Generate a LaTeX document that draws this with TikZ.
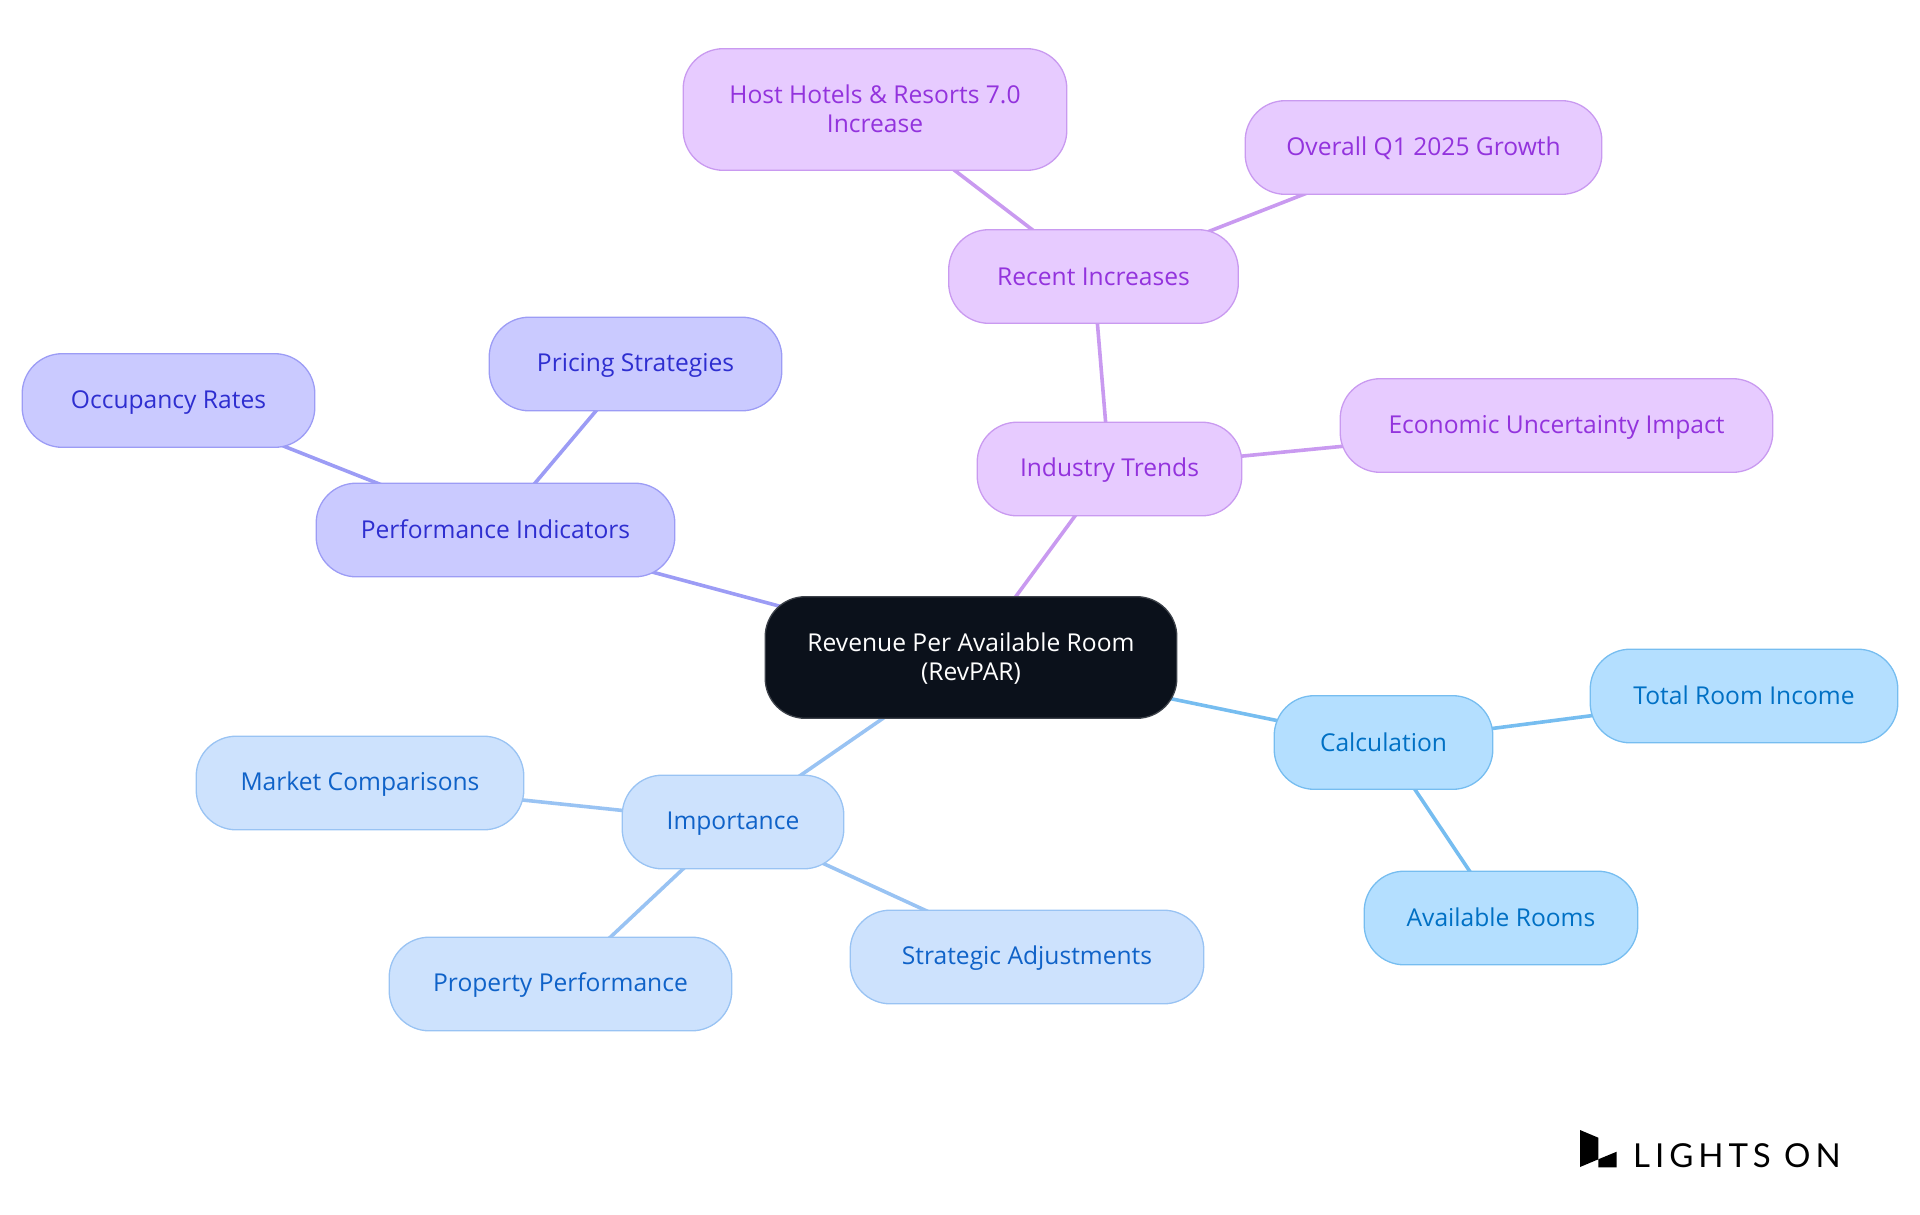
\documentclass[tikz,border=0pt]{standalone}
\usepackage{fontspec}
\setmainfont{Open Sans}
\newfontfamily\logofont[LetterSpace=15]{Lato}
\newcommand{\ms}{\rule[-4pt]{0pt}{25pt}}
\usetikzlibrary{backgrounds}
\definecolor{pfill}{HTML}{E7CBFF}\definecolor{pline}{HTML}{C99AF0}\definecolor{ptext}{HTML}{9333DD}
\definecolor{vfill}{HTML}{CACAFF}\definecolor{vline}{HTML}{9C9CF5}\definecolor{vtext}{HTML}{2E2ED0}
\definecolor{bfill}{HTML}{CDE2FD}\definecolor{bline}{HTML}{99C3F3}\definecolor{btext}{HTML}{0F62C8}
\definecolor{sfill}{HTML}{B4DFFF}\definecolor{sline}{HTML}{76BDF0}\definecolor{stext}{HTML}{0070C4}
\definecolor{rfill}{HTML}{0B111B}
\tikzset{
  x=1pt,y=-1pt,
  mapnode/.style={rectangle,rounded corners=40pt,inner sep=0pt,align=center,line width=1.3pt,
    font=\fontsize{24.6}{28.5}\selectfont},
  rootnode/.style={mapnode,fill=rfill,draw=rfill!80!white,text=white},
  pnode/.style={mapnode,fill=pfill,draw=pline,text=ptext},
  vnode/.style={mapnode,fill=vfill,draw=vline,text=vtext},
  bnode/.style={mapnode,fill=bfill,draw=bline,text=btext},
  snode/.style={mapnode,fill=sfill,draw=sline,text=stext},
  link/.style={line width=3.6pt},
  sz/.style 2 args={minimum width=#1pt-0.4pt,minimum height=#2pt-0.4pt},
}
\begin{document}
\begin{tikzpicture}
\useasboundingbox (0,0) rectangle (1920,1215);
\node[rootnode,sz={412}{122}] (root) at (971,657.5) {\ms Revenue Per Available Room\\\ms (RevPAR)};
\node[pnode,sz={265}{94}] (trends) at (1109.5,469) {\ms Industry Trends};
\node[pnode,sz={290}{94}] (recent) at (1093.5,276.5) {\ms Recent Increases};
\node[pnode,sz={384}{122}] (host) at (875,109.5) {\ms Host Hotels \& Resorts 7.0\\\ms Increase};
\node[pnode,sz={357}{94}] (overall) at (1423.5,147.5) {\ms Overall Q1 2025 Growth};
\node[pnode,sz={433}{94}] (econ) at (1556.5,425.5) {\ms Economic Uncertainty Impact};
\node[vnode,sz={359}{94}] (perf) at (495.5,530) {\ms Performance Indicators};
\node[vnode,sz={293}{94}] (pricing) at (635.5,364) {\ms Pricing Strategies};
\node[vnode,sz={293}{94}] (occ) at (168.5,400.5) {\ms Occupancy Rates};
\node[bnode,sz={222}{94}] (imp) at (733,822) {\ms Importance};
\node[bnode,sz={328}{94}] (market) at (360,783) {\ms Market Comparisons};
\node[bnode,sz={343}{94}] (prop) at (560.5,984) {\ms Property Performance};
\node[bnode,sz={354}{94}] (strat) at (1027,957) {\ms Strategic Adjustments};
\node[snode,sz={219}{94}] (calc) at (1383.5,742.5) {\ms Calculation};
\node[snode,sz={308}{94}] (total) at (1744,696) {\ms Total Room Income};
\node[snode,sz={274}{94}] (avail) at (1501,918) {\ms Available Rooms};
\begin{scope}[on background layer]
  \draw[link,pline] (root.center) -- (trends.center);
  \draw[link,pline] (trends.center) -- (recent.center);
  \draw[link,pline] (trends.center) -- (econ.center);
  \draw[link,pline] (recent.center) -- (host.center);
  \draw[link,pline] (recent.center) -- (overall.center);
  \draw[link,vline] (root.center) -- (perf.center);
  \draw[link,vline] (perf.center) -- (pricing.center);
  \draw[link,vline] (perf.center) -- (occ.center);
  \draw[link,bline] (root.center) -- (imp.center);
  \draw[link,bline] (imp.center) -- (market.center);
  \draw[link,bline] (imp.center) -- (prop.center);
  \draw[link,bline] (imp.center) -- (strat.center);
  \draw[link,sline] (root.center) -- (calc.center);
  \draw[link,sline] (calc.center) -- (total.center);
  \draw[link,sline] (calc.center) -- (avail.center);
\end{scope}
\fill[black] (1580,1130) -- (1598.3,1137.7) -- (1598.3,1159.3) -- (1580,1167) -- cycle;
\fill[black] (1598.3,1159.3) -- (1616.7,1151.7) -- (1616.7,1167.3) -- (1598.3,1167.3) -- cycle;
\node[anchor=base west,inner sep=0pt,font=\logofont\fontsize{33}{33}\selectfont,text=black] (logo) at (1633,1167) {LIGHTS ON};
\end{tikzpicture}
\end{document}
